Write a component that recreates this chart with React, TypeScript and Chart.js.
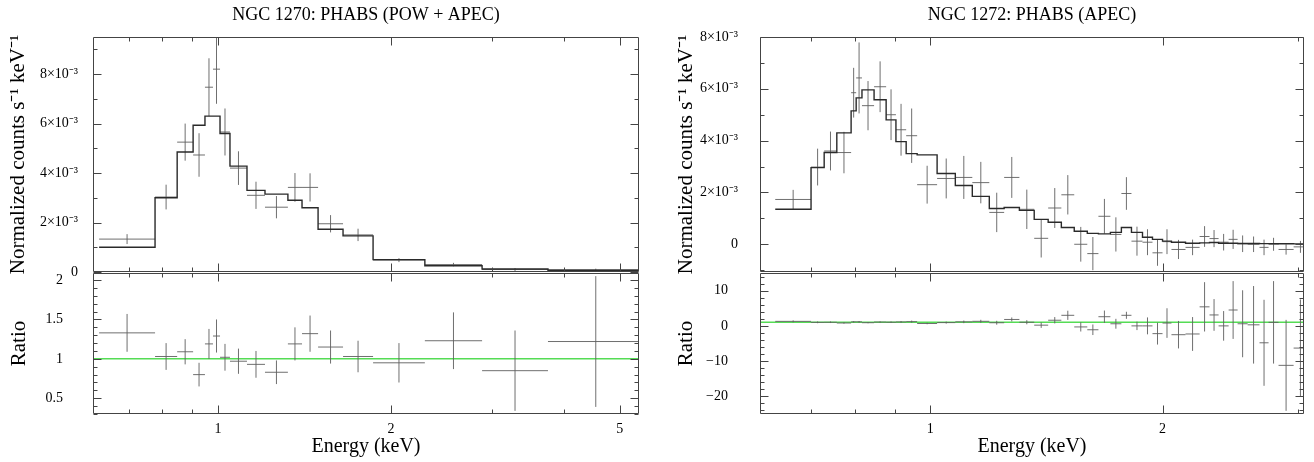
import React, { useEffect, useRef } from "react";
import { Chart, registerables } from "chart.js";

Chart.register(...registerables);

const FONT = "'Liberation Serif', 'Times New Roman', Times, serif";

// ---------------- NGC 1270 : PHABS (POW + APEC) ----------------
const title1270 = "NGC 1270: PHABS (POW + APEC)";
// energy bin edges (keV)
const edges1270 = [0.621, 0.777, 0.849, 0.905, 0.949, 0.98, 1.008, 1.049, 1.123, 1.207, 1.323, 1.4, 1.493, 1.65, 1.861, 2.29, 2.88, 3.75, 5.5];
// normalized counts (units of 1e-3 counts s^-1 keV^-1)
const counts1270 = [1.33, 3.03, 5.25, 4.73, 7.47, 8.2, 5.66, 4.2, 3.1, 2.62, 3.42, 3.42, 1.95, 1.5, 0.48, 0.3, 0.1, 0.085];
const countsErr1270 = [0.2, 0.5, 0.75, 0.88, 1.17, 1.4, 0.95, 0.68, 0.55, 0.45, 0.58, 0.57, 0.35, 0.25, 0.08, 0.07, 0.06, 0.05];
const model1270 = [1.0, 3.0, 4.85, 5.93, 6.3, 6.3, 5.6, 4.28, 3.3, 3.15, 2.9, 2.6, 1.73, 1.46, 0.5, 0.25, 0.12, 0.07];
const ratio1270 = [1.33, 1.03, 1.09, 0.8, 1.19, 1.29, 1.02, 0.97, 0.93, 0.83, 1.19, 1.32, 1.15, 1.03, 0.95, 1.23, 0.85, 1.22];
const ratioErr1270 = [0.24, 0.17, 0.16, 0.15, 0.19, 0.21, 0.17, 0.16, 0.17, 0.15, 0.21, 0.23, 0.21, 0.2, 0.25, 0.36, 0.51, 0.83];

// ---------------- NGC 1272 : PHABS (APEC) ----------------
const title1272 = "NGC 1272: PHABS (APEC)";
const edges1272 = [0.63, 0.701, 0.729, 0.757, 0.79, 0.802, 0.816, 0.846, 0.877, 0.903, 0.931, 0.962, 1.021, 1.078, 1.134, 1.193, 1.247, 1.305, 1.364, 1.422, 1.479, 1.537, 1.598, 1.652, 1.712, 1.769, 1.823, 1.884, 1.941, 2.0, 2.054, 2.142, 2.234, 2.301, 2.364, 2.436, 2.502, 2.578, 2.671, 2.744, 2.827, 2.957, 3.08];
const counts1272 = [1.73, 2.98, 3.6, 3.54, 5.85, 6.42, 5.35, 6.08, 5.0, 4.42, 4.19, 2.3, 2.54, 2.58, 2.38, 1.23, 2.58, 1.35, 0.23, 1.4, 1.91, 0.0, -0.36, 1.08, 0.38, 1.96, 0.12, 0.08, -0.33, 0.1, -0.2, -0.12, 0.3, 0.22, 0.08, 0.19, 0.02, 0.0, -0.12, 0.0, -0.2, -0.1];
const countsErr1272 = [0.37, 0.71, 0.75, 0.8, 0.96, 1.37, 0.95, 0.98, 0.98, 1.0, 1.05, 0.73, 0.77, 0.83, 0.8, 0.76, 0.79, 0.76, 0.74, 0.77, 0.76, 0.67, 0.64, 0.67, 0.66, 0.63, 0.56, 0.5, 0.5, 0.48, 0.37, 0.3, 0.4, 0.33, 0.32, 0.37, 0.32, 0.3, 0.3, 0.25, 0.2, 0.23];
const model1272 = [1.35, 2.96, 3.54, 4.3, 5.15, 5.65, 5.96, 5.58, 4.8, 3.96, 3.5, 3.45, 2.73, 2.27, 1.85, 1.38, 1.42, 1.31, 0.96, 0.85, 0.65, 0.5, 0.42, 0.4, 0.46, 0.65, 0.46, 0.27, 0.19, 0.12, 0.08, 0.04, 0.055, 0.07, 0.04, 0.04, 0.03, 0.03, 0.025, 0.025, 0.018, 0.016];
const ratio1272 = [1.28, 1.0, 1.02, 0.82, 1.14, 1.14, 0.9, 1.09, 1.04, 1.12, 1.2, 0.67, 0.93, 1.14, 1.29, 0.89, 1.82, 1.03, 0.2, 1.6, 3.0, -0.3, -1.1, 2.6, 0.6, 3.0, 0.0, 0.0, -2.2, 0.8, -2.5, -2.3, 5.4, 3.1, 0.0, 4.5, 0.6, 0.3, -4.8, 1.0, -11.2, -6.3];
const ratioErr1272 = [0.28, 0.24, 0.21, 0.19, 0.19, 0.24, 0.16, 0.18, 0.2, 0.25, 0.3, 0.21, 0.28, 0.37, 0.43, 0.55, 0.56, 0.58, 0.77, 0.9, 1.3, 1.3, 1.5, 1.75, 1.4, 1.0, 1.2, 2.4, 3.1, 4.2, 3.9, 4.8, 7.0, 4.5, 4.2, 8.2, 9.5, 11, 12.2, 11.7, 12.9, 13.8];

// ---------------- axes / ticks ----------------
const countsTitle = "Normalized counts s\u207B\u00B9 keV\u207B\u00B9";
const ratioTitle = "Ratio";
const energyTitle = "Energy (keV)";

const xRange1270: [number, number] = [0.606, 5.4];
const xRange1272: [number, number] = [0.602, 3.05];
const xMajor1270 = [1, 2, 5];
const xMinor1270 = [0.7, 0.8, 0.9, 3, 4];
const xMajor1272 = [1, 2];
const xMinor1272 = [0.7, 0.8, 0.9, 3];

const yRangeCounts1270: [number, number] = [0, 9.5];
const yMajorCounts1270 = [0, 2, 4, 6, 8];
const yMinorCounts1270 = [1, 3, 5, 7, 9];
const yRangeRatio1270: [number, number] = [0.3, 2.09];
const yMajorRatio1270 = [0.5, 1, 1.5, 2];
const yMinorRatio1270 = [0.3, 0.4, 0.6, 0.7, 0.8, 0.9, 1.1, 1.2, 1.3, 1.4, 1.6, 1.7, 1.8, 1.9];

const yRangeCounts1272: [number, number] = [-1.07, 8];
const yMajorCounts1272 = [0, 2, 4, 6, 8];
const yMinorCounts1272 = [-1, 1, 3, 5, 7];
const yRangeRatio1272: [number, number] = [-25, 15];
const yMajorRatio1272 = [-20, -10, 0, 10];
const yMinorRatio1272 = [-24, -22, -18, -16, -14, -12, -8, -6, -4, -2, 2, 4, 6, 8, 12, 14];

const DATA_COLOR = "rgba(95,95,95,0.9)";
const MODEL_COLOR = "#2a2a2a";
const UNITY_COLOR = "rgb(85,220,85)";
const FRAME_COLOR = "#444";

type Pt = { x: number; y: number | null };

function horizontalBars(edges: number[], vals: number[]): Pt[] {
  const out: Pt[] = [];
  vals.forEach((v, i) => {
    out.push({ x: edges[i], y: v }, { x: edges[i + 1], y: v }, { x: edges[i + 1], y: null });
  });
  return out;
}
function verticalBars(edges: number[], vals: number[], errs: number[]): Pt[] {
  const out: Pt[] = [];
  vals.forEach((v, i) => {
    const mid = Math.sqrt(edges[i] * edges[i + 1]);
    out.push({ x: mid, y: v - errs[i] }, { x: mid, y: v + errs[i] }, { x: mid, y: null });
  });
  return out;
}
function stepPoints(edges: number[], vals: number[]): Pt[] {
  const pts: Pt[] = vals.map((v, i) => ({ x: edges[i], y: v }));
  pts.push({ x: edges[vals.length], y: vals[vals.length - 1] });
  return pts;
}

function lineDs(data: Pt[], color: string, width: number, stepped = false) {
  return {
    data,
    borderColor: color,
    backgroundColor: color,
    borderWidth: width,
    pointRadius: 0,
    pointHoverRadius: 0,
    fill: false,
    tension: 0,
    spanGaps: false,
    stepped,
  };
}

const framePlugin = {
  id: "frame",
  afterDatasetsDraw(chart: any, _args: any, opts: any) {
    const { ctx, chartArea } = chart;
    const xs = chart.scales.x;
    const ys = chart.scales.y;
    const L = Math.round(chartArea.left) + 0.5;
    const R = Math.round(chartArea.right) - 0.5;
    const T = Math.round(chartArea.top) + 0.5;
    const B = Math.round(chartArea.bottom) - 0.5;
    ctx.save();
    ctx.strokeStyle = FRAME_COLOR;
    ctx.lineWidth = 1;
    ctx.beginPath();
    ctx.rect(L, T, R - L, B - T);
    ctx.stroke();
    const major = 8;
    const minor = 4;
    ctx.beginPath();
    const xt = (vals: number[], len: number) => {
      vals.forEach((v) => {
        const p = Math.round(xs.getPixelForValue(v)) + 0.5;
        ctx.moveTo(p, T);
        ctx.lineTo(p, T + len);
        ctx.moveTo(p, B);
        ctx.lineTo(p, B - len);
      });
    };
    const yt = (vals: number[], len: number) => {
      vals.forEach((v) => {
        const p = Math.round(ys.getPixelForValue(v)) + 0.5;
        ctx.moveTo(L, p);
        ctx.lineTo(L + len, p);
        ctx.moveTo(R, p);
        ctx.lineTo(R - len, p);
      });
    };
    xt(opts.xMajor, major);
    xt(opts.xMinor, minor);
    yt(opts.yMajor, major);
    yt(opts.yMinor, minor);
    ctx.stroke();
    ctx.restore();
  },
};

interface PanelProps {
  left: number;
  top: number;
  width: number;
  height: number;
  pad: { top: number; right: number; bottom: number; left: number };
  yAxisWidth: number;
  xAxisHeight?: number;
  title?: string;
  yTitle: string;
  yTitleSize: number;
  yTitlePad: number;
  yLabelPad: number;
  xRange: [number, number];
  yRange: [number, number];
  xMajor: number[];
  xMinor: number[];
  yMajor: number[];
  yMinor: number[];
  yFmt: (v: number) => string;
  datasets: any[];
}

function Panel(p: PanelProps) {
  const ref = useRef<HTMLCanvasElement>(null);
  useEffect(() => {
    if (!ref.current) return;
    const showX = p.xAxisHeight !== undefined;
    const chart = new Chart(ref.current, {
      type: "line",
      data: { datasets: p.datasets },
      plugins: [framePlugin as any],
      options: {
        animation: false,
        responsive: false,
        maintainAspectRatio: false,
        events: [],
        layout: { padding: p.pad },
        plugins: {
          legend: { display: false },
          tooltip: { enabled: false },
          title: p.title
            ? {
                display: true,
                text: p.title,
                fullSize: false,
                color: "#000",
                font: { family: FONT, size: 18, weight: "normal", lineHeight: 1.2 },
                padding: { top: 4, bottom: 11.4 },
              }
            : { display: false },
          frame: { xMajor: p.xMajor, xMinor: p.xMinor, yMajor: p.yMajor, yMinor: p.yMinor },
        } as any,
        scales: {
          x: {
            type: "logarithmic",
            min: p.xRange[0],
            max: p.xRange[1],
            bounds: "data",
            display: showX,
            grid: { display: false, drawTicks: false },
            border: { display: false },
            afterBuildTicks: (s: any) => {
              s.ticks = p.xMajor.map((v) => ({ value: v }));
            },
            afterFit: (s: any) => {
              if (showX) s.height = p.xAxisHeight;
            },
            ticks: {
              autoSkip: false,
              maxRotation: 0,
              padding: 7,
              color: "#000",
              font: { family: FONT, size: 14 },
              callback: (v: any) => String(v),
            },
            title: {
              display: showX,
              text: energyTitle,
              color: "#000",
              font: { family: FONT, size: 20, lineHeight: 1.2 },
              padding: { top: 0, bottom: 3 },
            },
          } as any,
          y: {
            type: "linear",
            min: p.yRange[0],
            max: p.yRange[1],
            bounds: "data",
            grid: { display: false, drawTicks: false },
            border: { display: false },
            afterBuildTicks: (s: any) => {
              s.ticks = p.yMajor.map((v) => ({ value: v }));
            },
            afterFit: (s: any) => {
              s.width = p.yAxisWidth;
            },
            ticks: {
              autoSkip: false,
              padding: p.yLabelPad,
              color: "#000",
              font: { family: FONT, size: 14 },
              callback: (v: any) => p.yFmt(Number(v)),
            },
            title: {
              display: true,
              text: p.yTitle,
              color: "#000",
              font: { family: FONT, size: p.yTitleSize, lineHeight: 1.2 },
              padding: { top: p.yTitlePad, bottom: 0 },
            },
          } as any,
        },
      },
    });
    return () => chart.destroy();
  }, []);
  return (
    <canvas
      ref={ref}
      width={p.width}
      height={p.height}
      style={{ position: "absolute", left: p.left, top: p.top, width: p.width, height: p.height }}
    />
  );
}

const fmtCounts = (v: number) => (v === 0 ? "0" : `${v}\u00D710\u207B\u00B3`);
const fmtRatio = (v: number) => (v < 0 ? `\u2212${-v}` : String(v));

function spectrumDatasets(edges: number[], counts: number[], errs: number[], model: number[]) {
  return [
    lineDs(stepPoints(edges, model), MODEL_COLOR, 1.4, true),
    lineDs(horizontalBars(edges, counts), DATA_COLOR, 1),
    lineDs(verticalBars(edges, counts, errs), DATA_COLOR, 1),
  ];
}
function ratioDatasets(edges: number[], ratio: number[], errs: number[], xr: [number, number]) {
  return [
    lineDs(horizontalBars(edges, ratio), DATA_COLOR, 1),
    lineDs(verticalBars(edges, ratio, errs), DATA_COLOR, 1),
    lineDs([{ x: xr[0], y: 1 }, { x: xr[1], y: 1 }], UNITY_COLOR, 1.5),
  ];
}

// top panels: chart area 37..272 ; ratio panels: chart area 273..414
const TOP_H = 304;
const TOP_PAD_B = 32;
const RAT_TOP = 231;
const RAT_PAD_T = 42;

export default function App() {
  return (
    <div style={{ position: "absolute", left: 0, top: 0, width: 1314, height: 462, background: "#fff" }}>
      <Panel
        left={0}
        top={0}
        width={660}
        height={TOP_H}
        pad={{ top: 0, right: 21, bottom: TOP_PAD_B, left: 0 }}
        yAxisWidth={93}
        title={title1270}
        yTitle={countsTitle}
        yTitleSize={21}
        yTitlePad={6}
        yLabelPad={15}
        xRange={xRange1270}
        yRange={yRangeCounts1270}
        xMajor={xMajor1270}
        xMinor={xMinor1270}
        yMajor={yMajorCounts1270}
        yMinor={yMinorCounts1270}
        yFmt={fmtCounts}
        datasets={spectrumDatasets(edges1270, counts1270, countsErr1270, model1270)}
      />
      <Panel
        left={0}
        top={RAT_TOP}
        width={660}
        height={462 - RAT_TOP}
        pad={{ top: RAT_PAD_T, right: 21, bottom: 0, left: 0 }}
        yAxisWidth={93}
        xAxisHeight={48}
        yTitle={ratioTitle}
        yTitleSize={21}
        yTitlePad={7}
        yLabelPad={30}
        xRange={xRange1270}
        yRange={yRangeRatio1270}
        xMajor={xMajor1270}
        xMinor={xMinor1270}
        yMajor={yMajorRatio1270}
        yMinor={yMinorRatio1270}
        yFmt={fmtRatio}
        datasets={ratioDatasets(edges1270, ratio1270, ratioErr1270, xRange1270)}
      />
      <Panel
        left={660}
        top={0}
        width={654}
        height={TOP_H}
        pad={{ top: 0, right: 10, bottom: TOP_PAD_B, left: 0 }}
        yAxisWidth={100}
        title={title1272}
        yTitle={countsTitle}
        yTitleSize={21}
        yTitlePad={14}
        yLabelPad={22}
        xRange={xRange1272}
        yRange={yRangeCounts1272}
        xMajor={xMajor1272}
        xMinor={xMinor1272}
        yMajor={yMajorCounts1272}
        yMinor={yMinorCounts1272}
        yFmt={fmtCounts}
        datasets={spectrumDatasets(edges1272, counts1272, countsErr1272, model1272)}
      />
      <Panel
        left={660}
        top={RAT_TOP}
        width={654}
        height={462 - RAT_TOP}
        pad={{ top: RAT_PAD_T, right: 10, bottom: 0, left: 0 }}
        yAxisWidth={100}
        xAxisHeight={48}
        yTitle={ratioTitle}
        yTitleSize={21}
        yTitlePad={14}
        yLabelPad={32}
        xRange={xRange1272}
        yRange={yRangeRatio1272}
        xMajor={xMajor1272}
        xMinor={xMinor1272}
        yMajor={yMajorRatio1272}
        yMinor={yMinorRatio1272}
        yFmt={fmtRatio}
        datasets={ratioDatasets(edges1272, ratio1272, ratioErr1272, xRange1272)}
      />
    </div>
  );
}
